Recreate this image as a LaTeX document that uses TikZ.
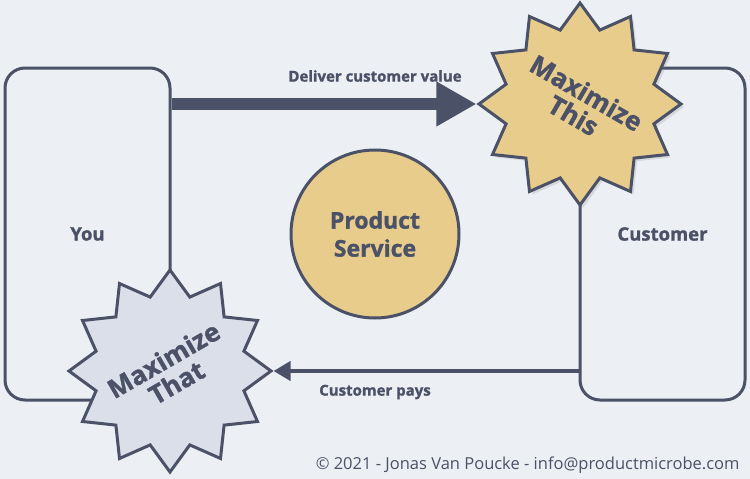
\documentclass[tikz,border=0pt]{standalone}
\usepackage{fontspec}
\setmainfont{Open Sans}[BoldFeatures={FakeBold=1.3}]
\usepackage{tikz}
\usetikzlibrary{shapes.geometric, arrows.meta, shadows}
\usepackage{xcolor}

\definecolor{ink}{HTML}{4B5167}
\definecolor{paper}{HTML}{ECEFF4}
\definecolor{sand}{HTML}{E8CC8C}
\definecolor{mist}{HTML}{DBDFE9}

\tikzset{
	party/.style={draw=ink, line width=3pt, rounded corners=20pt, minimum width=165pt, minimum height=332pt, inner sep=0pt, text=ink, font=\bfseries\fontsize{18.5}{20}\selectfont},
	burst/.style={star, star points=12, star point ratio=1.32, minimum size=202pt, inner sep=0pt, draw=ink, line width=3pt},
	bursttext/.style={text=ink, align=center, font=\bfseries\fontsize{26}{26}\selectfont},
	flowlabel/.style={text=ink, font=\bfseries\fontsize{15}{17}\selectfont}
}

\begin{document}
\begin{tikzpicture}[x=1pt, y=-1pt]
		\fill [paper] (0,0) rectangle (750,479);
		\useasboundingbox (0,0) rectangle (750,479);
		\node [party] (you) at (87.5,234) {You};
		\node [party] (customer) at (662.5,234) {Customer};
		\node [circle, draw=ink, line width=3pt, fill=sand, minimum size=168pt, text=ink, align=center, font=\bfseries\fontsize{23}{28}\selectfont] (product) at (375,234) {Product\\Service};
		% the two bursts sit over the box corners
		\node [burst, fill=sand, drop shadow={shadow xshift=3pt, shadow yshift=-3pt, opacity=0.2}] (thisstar) at (580,104) {};
		\node [burst, fill=mist] (thatstar) at (170,371) {};
		\draw [ink, line width=12pt, -{Triangle[length=40pt, width=42pt]}] (you.east |- thisstar.west) -- (thisstar.west);
		\draw [ink, line width=4pt, -{Triangle[length=17pt, width=19pt]}] (customer.west |- thatstar.east) -- (thatstar.east);
		\node [flowlabel] (deliver) at (375,76) {Deliver customer value};
		\node [flowlabel] (pays) at (375,392) {Customer pays};
		\node [bursttext, rotate=-30] (thistext) at (thisstar.center) {Maximize\\This};
		\node [bursttext, rotate=30] (thattext) at (thatstar.center) {Maximize\\That};
		\node [anchor=east, text=ink, font=\fontsize{16.5}{18}\selectfont] (credit) at (743,465) {© 2021 - Jonas Van Poucke - info@productmicrobe.com};
\end{tikzpicture}
\end{document}
